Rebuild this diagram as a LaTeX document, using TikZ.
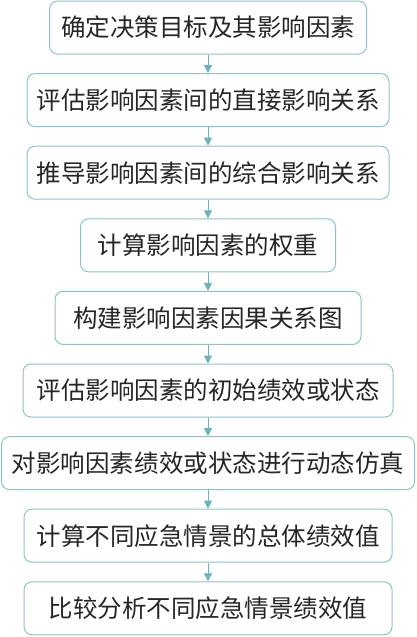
\documentclass[tikz,border=0pt]{standalone}
\usepackage{fontspec}
\newfontfamily\cjk{Noto Sans CJK SC}
\usetikzlibrary{arrows.meta}
\definecolor{edgeteal}{HTML}{8CC3C7}
\definecolor{flowteal}{HTML}{6DB3B9}
\tikzset{
	stepbox/.style={draw=edgeteal, line width=1pt, rounded corners=8pt, minimum height=53, inner sep=0pt, font=\cjk\fontsize{24.5}{28}\selectfont, text=black!85},
	flow/.style={flowteal, line width=1pt, -{Triangle[width=8pt,length=8pt]}}
}
\begin{document}
\begin{tikzpicture}[x=1pt, y=1pt]
			\useasboundingbox (0,0) rectangle (416,-637);
			
			\foreach \w/\txt [count=\i] in {317/确定决策目标及其影响因素, 362/评估影响因素间的直接影响关系, 362/推导影响因素间的综合影响关系, 255/计算影响因素的权重, 306/构建影响因素因果关系图, 370/评估影响因素的初始绩效或状态, 413/对影响因素绩效或状态进行动态仿真, 368/计算不同应急情景的总体绩效值, 368/比较分析不同应急情景绩效值}
			{
				\node [stepbox, minimum width=\w] (s\i) at (208, {-27.5-72.6*(\i-1)}) {\txt};
			}
			
			\foreach \i [evaluate=\i as \j using int(\i+1)] in {1,...,8}
			{
				\draw [flow] (s\i.south) -- (s\j.north);
			}
		\end{tikzpicture}
\end{document}
